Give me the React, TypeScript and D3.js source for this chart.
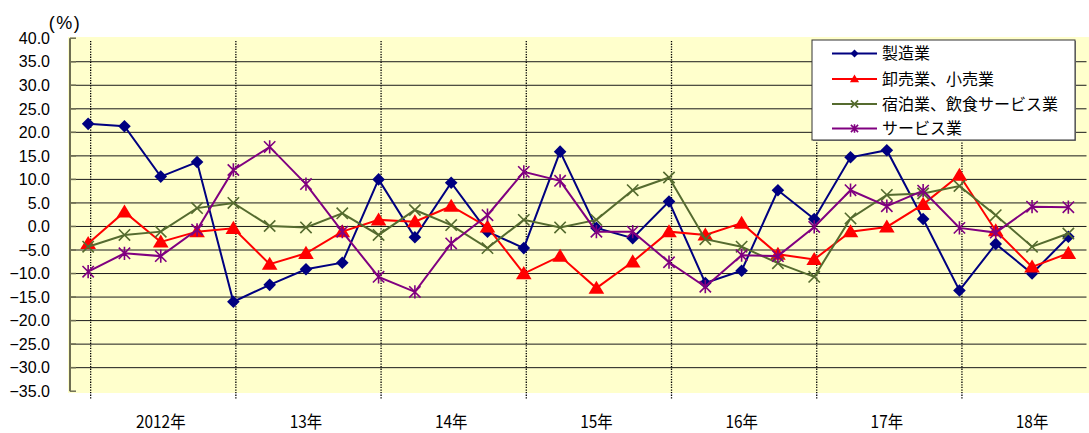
import React from 'react';
import * as d3 from 'd3';

// 四半期ごとの前年同期比（%）
const years = ['2012年', '13年', '14年', '15年', '16年', '17年', '18年'];
const quarters = ['Q1', 'Q2', 'Q3', 'Q4'];
const categories = years.flatMap((y) => quarters.map((q) => `${y}${q}`));

const seriesNames = ['製造業', '卸売業、小売業', '宿泊業、飲食サービス業', 'サービス業'];

const manufacturing = [
  21.8, 21.3, 10.6, 13.7, -16.0, -12.4, -9.1, -7.7,
  10.0, -2.3, 9.3, -1.1, -4.6, 15.9, -0.3, -2.5,
  5.3, -12.0, -9.4, 7.7, 1.6, 14.7, 16.2, 1.6,
  -13.6, -3.7, -10.0, -2.2,
];
const wholesaleRetail = [
  -3.6, 3.1, -3.3, -1.1, -0.4, -8.0, -5.7, -1.1,
  1.4, 1.0, 4.3, -0.1, -10.0, -6.3, -13.1, -7.5,
  -1.1, -1.8, 0.7, -5.9, -7.0, -1.1, -0.1, 4.7,
  10.9, -0.9, -8.6, -5.7,
];
const accommodationFood = [
  -4.3, -1.8, -1.1, 3.9, 5.0, 0.1, -0.2, 2.8,
  -1.8, 3.5, 0.3, -4.6, 1.4, -0.2, 1.4, 7.7,
  10.4, -2.7, -4.3, -7.8, -10.7, 1.7, 6.7, 7.0,
  8.6, 2.4, -4.3, -1.5,
];
const services = [
  -9.6, -5.7, -6.3, -0.7, 12.0, 16.9, 9.0, -1.1,
  -10.7, -13.9, -3.6, 2.4, 11.6, 9.7, -1.1, -1.1,
  -7.6, -12.8, -6.1, -6.3, -0.1, 7.7, 4.3, 7.6,
  -0.3, -1.3, 4.2, 4.1,
];

const yTicks = d3.range(-35, 40.1, 5);

const colors = ['#000080', '#ff0000', '#556b2f', '#800080'];
const shapes = ['diamond', 'triangle', 'x', 'star'];

const fmt = (v: number) => (v < 0 ? `−${Math.abs(v).toFixed(1)}` : v.toFixed(1));

const Marker = ({ shape, color, x, y, s }: { shape: string; color: string; x: number; y: number; s: number }) => {
  if (shape === 'diamond') {
    return <path d={`M${x},${y - s} L${x + s},${y} L${x},${y + s} L${x - s},${y} Z`} fill={color} />;
  }
  if (shape === 'triangle') {
    const h = s * 1.1;
    return <path d={`M${x},${y - h} L${x + s * 1.15},${y + h * 0.75} L${x - s * 1.15},${y + h * 0.75} Z`} fill={color} />;
  }
  const d = s * 0.9;
  if (shape === 'x') {
    return (
      <path d={`M${x - d},${y - d} L${x + d},${y + d} M${x - d},${y + d} L${x + d},${y - d}`} stroke={color} strokeWidth={1.6} />
    );
  }
  return (
    <path
      d={`M${x - d},${y - d} L${x + d},${y + d} M${x - d},${y + d} L${x + d},${y - d} M${x},${y - s * 1.05} L${x},${y + s * 1.05}`}
      stroke={color}
      strokeWidth={1.6}
    />
  );
};

const App = () => {
  const width = 1089;
  const height = 433;
  const plotLeft = 70;
  const plotRight = 1086.5;
  const series = [manufacturing, wholesaleRetail, accommodationFood, services];

  const x = d3.scaleBand<string>().domain(categories).range([plotLeft, plotRight]);
  const cx = (i: number) => (x(categories[i]) as number) + x.bandwidth() / 2;
  const y = d3.scaleLinear().domain([-35, 40]).range([391.2, 38.2]);

  const line = d3.line<number>().x((_, i) => cx(i)).y((d) => y(d));

  const legendX = 812;
  const legendY = 40;
  const legendRows = [53.5, 79, 104, 128.5];

  return (
    <svg
      width={width}
      height={height}
      style={{ position: 'absolute', left: 0, top: 0, background: '#fff' }}
      fontFamily="'Liberation Sans', Arial, sans-serif"
    >
      <rect x={68} y={37} width={width - 68} height={356} fill="#ffffcc" />

      {/* 横グリッド */}
      {yTicks.filter((t) => t > -35 && t < 40).map((t) => (
        <line key={t} x1={plotLeft} x2={plotRight} y1={y(t)} y2={y(t)} stroke="#1a1a1a" strokeWidth={1} />
      ))}

      {/* 年区切り（点線） */}
      {years.map((yr, k) => (
        <line
          key={yr}
          x1={cx(k * 4) + 2.5}
          x2={cx(k * 4) + 2.5}
          y1={41}
          y2={399}
          stroke="#000"
          strokeWidth={1.3}
          strokeDasharray="1.3,1.3"
        />
      ))}

      {/* Y軸 */}
      <line x1={plotLeft} x2={plotLeft} y1={y(40)} y2={y(-35)} stroke="#6e6e52" strokeWidth={2} />
      {yTicks.map((t) => (
        <g key={t}>
          <line x1={plotLeft} x2={plotLeft + 6} y1={y(t)} y2={y(t)} stroke="#6e6e52" strokeWidth={1.5} />
          <text x={50} y={y(t)} dy="0.36em" textAnchor="end" fontSize={16} fill="#000">
            {fmt(t)}
          </text>
        </g>
      ))}
      <text x={65} y={29} textAnchor="middle" fontSize={18} letterSpacing={1.5}>
        (%)
      </text>

      {/* X軸ラベル */}
      {years.map((yr, k) => (
        <text
          key={yr}
          transform={`translate(${cx(k * 4 + 2)},428) scale(0.88,1)`}
          textAnchor="middle"
          fontSize={17.5}
          fontFamily="'Noto Sans CJK JP', sans-serif"
        >
          {yr}
        </text>
      ))}

      {/* 系列 */}
      {series.map((s, si) => (
        <g key={seriesNames[si]}>
          <path d={line(s) as string} fill="none" stroke={colors[si]} strokeWidth={2} />
          {s.map((v, i) => (
            <Marker key={i} shape={shapes[si]} color={colors[si]} x={cx(i)} y={y(v)} s={si === 1 ? 6.8 : 6.3} />
          ))}
        </g>
      ))}

      {/* 凡例 */}
      <rect x={legendX + 1} y={legendY + 1} width={263} height={100} fill="#888" />
      <rect x={legendX} y={legendY} width={263} height={100} fill="#fff" stroke="#333" strokeWidth={1} />
      {seriesNames.map((name, si) => (
        <g key={name}>
          <line x1={832} x2={877} y1={legendRows[si]} y2={legendRows[si]} stroke={colors[si]} strokeWidth={2} />
          <Marker shape={shapes[si]} color={colors[si]} x={854.5} y={legendRows[si]} s={4} />
          <text
            x={882}
            y={legendRows[si]}
            dy="0.36em"
            fontSize={16}
            fontFamily="'Noto Sans CJK JP', sans-serif"
          >
            {name}
          </text>
        </g>
      ))}
    </svg>
  );
};

export default App;
